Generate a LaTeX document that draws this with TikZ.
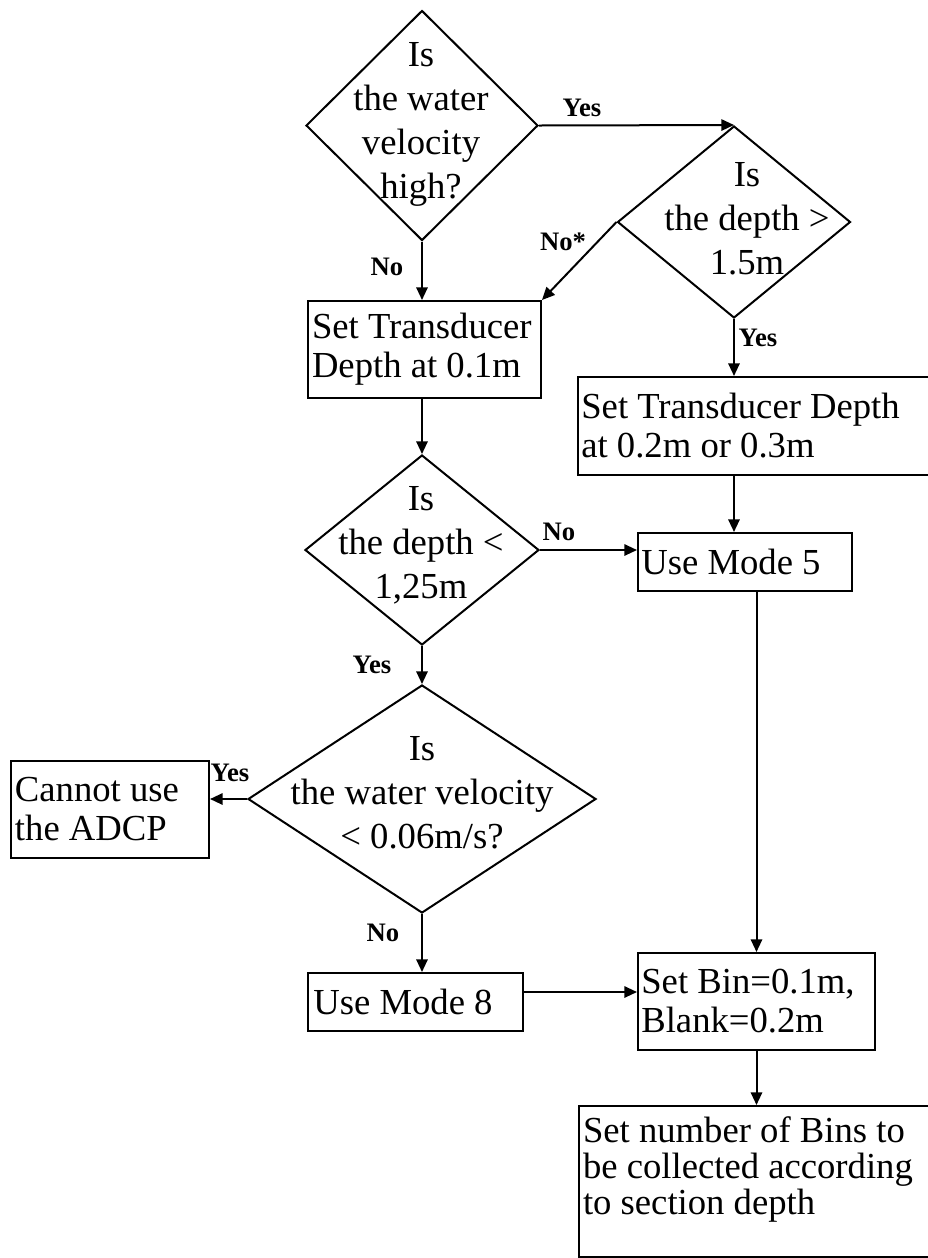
\documentclass[tikz,border=0pt]{standalone}
\usepackage{fontspec}
\setmainfont{Liberation Serif}
\usetikzlibrary{shapes.geometric,arrows.meta,calc}
\begin{document}
\begin{tikzpicture}[x=0.75pt,y=-0.75pt,line width=1.5pt,
  decision/.style={shape=diamond,draw,inner sep=0pt},
  procbox/.style={shape=rectangle,draw,inner sep=0pt,anchor=north west},
  qtext/.style={align=center,font=\fontsize{27.5}{33}\selectfont,inner sep=0pt},
  btext/.style={align=left,anchor=west,font=\fontsize{27.5}{29.25}\selectfont,inner sep=0pt},
  lbl/.style={font=\bfseries\fontsize{20}{22}\selectfont,inner sep=0pt},
  arr/.style={-{Triangle[length=9.5pt,width=8.5pt]}}]

\useasboundingbox (0,0) rectangle (928,1258);
\clip (0,0) rectangle (928,1258);

% decisions
\node[decision,minimum width=174pt,minimum height=172.5pt] (d1) at (422,125.5) {};
\node[qtext] (d1t) at (421,124) {Is\\the water\\velocity\\high?};

\node[decision,minimum width=174.75pt,minimum height=144pt] (d2) at (734,222) {};
\node[qtext] (d2t) at (747,219) {Is\\the depth >\\1.5m};

\node[decision,minimum width=175.5pt,minimum height=142.5pt] (d3) at (422,550) {};
\node[qtext] (d3t) at (421,545) {Is\\the depth <\\1,25m};

\node[decision,minimum width=261pt,minimum height=171pt] (d4) at (422,799) {};
\node[qtext] (d4t) at (422,793) {Is\\the water velocity\\< 0.06m/s?};

% process boxes
\node[procbox,minimum width=174.75pt,minimum height=72.75pt] (b1) at (307,300) {};
\node[btext] (b1t) at ([xshift=3pt]b1.west) {Set Transducer\\Depth at 0.1m};

\node[procbox,minimum width=264.75pt,minimum height=73.5pt] (b2) at (577,376) {};
\node[btext] (b2t) at ([xshift=2.5pt]b2.west) {Set Transducer Depth\\at 0.2m or 0.3m};

\node[procbox,minimum width=160.5pt,minimum height=43.5pt] (mode5) at (637,532) {};
\node[btext] (mode5t) at ([xshift=2.5pt]mode5.west) {Use Mode 5};

\node[procbox,minimum width=148.5pt,minimum height=72.75pt] (cannot) at (10,760) {};
\node[btext] (cannott) at ([xshift=3pt]cannot.west) {Cannot use\\the ADCP};

\node[procbox,minimum width=161.25pt,minimum height=43.5pt] (mode8) at (307,972) {};
\node[btext] (mode8t) at ([xshift=4pt]mode8.west) {Use Mode 8};

\node[procbox,minimum width=177.75pt,minimum height=72.75pt] (setbin) at (637,952) {};
\node[btext] (setbint) at ([xshift=2.5pt]setbin.west) {Set Bin=0.1m,\\Blank=0.2m};

\node[procbox,minimum width=264pt,minimum height=113.25pt] (final) at (578,1105) {};
\node[btext,anchor=north west,font=\fontsize{27.5}{27}\selectfont] (finalt)
  at ([xshift=3pt,yshift=-8pt]final.north west)
  {Set number of Bins to\\be collected according\\to section depth};

% connectors
\draw[arr] (d1.east) -- (d2.north);
\draw[arr] (d1.south) -- (d1.south |- b1.north);
\draw[arr] (d2.west) -- (b1.north east);
\draw[arr] (d2.south) -- (d2.south |- b2.north);
\draw[arr] (d3.north |- b1.south) -- (d3.north);
\draw[arr] (d2.south |- b2.south) -- (d2.south |- mode5.north);
\draw[arr] (d3.east) -- (d3.east -| mode5.west);
\draw[arr] (d3.south) -- (d4.north);
\draw[arr] (d4.west) -- (d4.west -| cannot.east);
\draw[arr] (d4.south) -- (d4.south |- mode8.north);
\coordinate (m8out) at ([yshift=7.5pt]mode8.east);
\draw[arr] (m8out) -- (m8out -| setbin.west);
\draw[arr] (setbin.north |- mode5.south) -- (setbin.north);
\draw[arr] (setbin.south) -- (setbin.south |- final.north);

% branch labels
\node[lbl] (yes1) at (582,108) {Yes};
\node[lbl] (no1) at (387,267) {No};
\node[lbl] (nostar) at (563,242) {No*};
\node[lbl] (yes2) at (758,338) {Yes};
\node[lbl] (no2) at (559,532) {No};
\node[lbl] (yes3) at (372,665) {Yes};
\node[lbl] (yes4) at (230,773) {Yes};
\node[lbl] (no3) at (383,933) {No};
\end{tikzpicture}
\end{document}
